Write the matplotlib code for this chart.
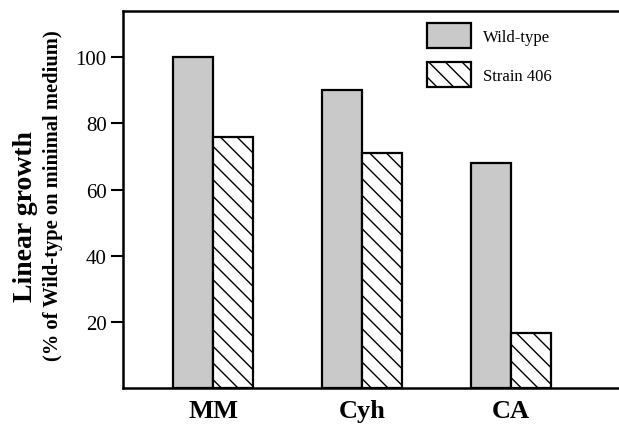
import matplotlib
matplotlib.use("Agg")
import matplotlib.pyplot as plt
import numpy as np

media = ["MM", "Cyh", "CA"]
wild_type = [100, 90, 68]
strain_406 = [76, 71, 16.5]
y_ticks = [20, 40, 60, 80, 100]

plt.rcParams['font.family'] = ['Liberation Serif', 'DejaVu Serif']
plt.rcParams['hatch.linewidth'] = 1.0

fig = plt.figure(figsize=(6.19, 4.27), dpi=100)
ax = fig.add_axes([0.199, 0.089, 0.801, 0.883])

x = np.arange(len(media))
w = 0.27
ax.bar(x - w / 2, wild_type, w, facecolor='#c9c9c9', edgecolor='black',
       linewidth=1.6, label='Wild-type')
ax.bar(x + w / 2, strain_406, w, facecolor='white', edgecolor='black',
       linewidth=1.6, hatch='\\\\', label='Strain 406')

ax.set_xlim(-0.604, 2.725)
ax.set_ylim(0, 114)
ax.set_yticks(y_ticks)
ax.set_yticklabels([str(t) for t in y_ticks], fontsize=15)
ax.set_xticks(x)
ax.set_xticklabels(media, fontsize=19, fontweight='bold')
ax.tick_params(axis='x', length=0, pad=8)
ax.tick_params(axis='y', direction='out', length=9, width=1.5, pad=3)

for s in ['left', 'top', 'bottom']:
    ax.spines[s].set_linewidth(1.8)
ax.spines['right'].set_visible(False)

fig.text(0.041, 0.492, 'Linear growth', rotation=90, ha='center', va='center',
         fontsize=20, fontweight='bold')
fig.text(0.086, 0.541, '(% of Wild-type on minimal medium)', rotation=90,
         ha='center', va='center', fontsize=14.8, fontweight='bold')

ax.legend(loc='upper left', bbox_to_anchor=(0.582, 1.008), frameon=False,
          fontsize=12, handlelength=2.65, handleheight=1.93, labelspacing=0.85,
          handletextpad=0.7)

fig.savefig('out.png', dpi=100)
